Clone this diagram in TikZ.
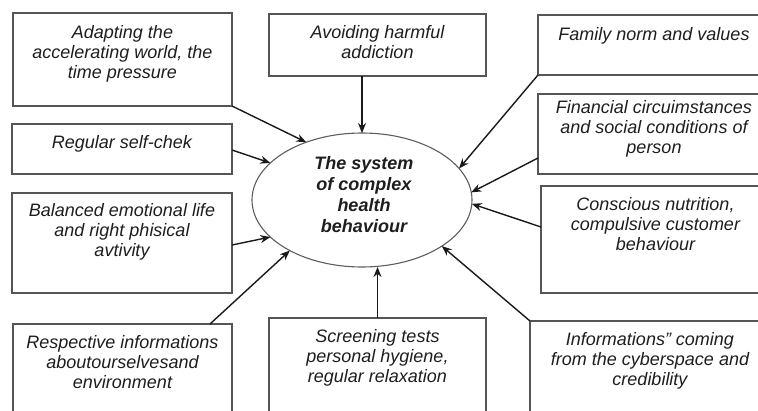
\documentclass[tikz,border=0pt]{standalone}
\usepackage{fontspec}
\setmainfont{Liberation Sans}
\usetikzlibrary{arrows.meta,calc,shapes.geometric}
\definecolor{txt}{HTML}{1E1E1E}
\definecolor{boxc}{HTML}{555555}
\definecolor{arr}{HTML}{1A1A1A}
\definecolor{ellc}{HTML}{5E5E5E}
\begin{document}
\begin{tikzpicture}[x=1pt,y=-1pt,
  box/.style={draw=boxc, line width=1.4pt, inner sep=0pt, outer sep=0pt, fill=white},
  lbl/.style={anchor=north, inner sep=0pt, align=center, text=txt, font=\fontsize{18}{20}\selectfont\itshape},
  etext/.style={inner sep=0pt, align=center, text=txt, font=\fontsize{18}{21}\selectfont\bfseries\itshape},
  conn/.style={draw=arr, line width=1.4pt, -{Stealth[length=10pt,width=8pt]}},
]
\useasboundingbox (0,0) rectangle (758,410);
\clip (0,0) rectangle (758,410);
\fill[white] (0,0) rectangle (758,410);

% boxes
\node[box, minimum width=219pt, minimum height=93pt] (adapt) at (122.5,59.5) {};
\node[box, minimum width=220pt, minimum height=50pt] (reg) at (122,149) {};
\node[box, minimum width=220pt, minimum height=100pt] (bal) at (122,243) {};
\node[box, minimum width=217pt, minimum height=62pt] (avoid) at (377.5,45) {};
\node[box, minimum width=232pt, minimum height=60pt] (fam) at (654,45) {};
\node[box, minimum width=232pt, minimum height=80pt] (fin) at (654,134) {};
\node[box, minimum width=229pt, minimum height=107pt] (cons) at (655.5,239.5) {};
\node[box, minimum width=219pt, minimum height=96pt] (resp) at (122.5,372) {};
\node[box, minimum width=217pt, minimum height=102pt] (scr) at (377.5,369) {};
\node[box, minimum width=240pt, minimum height=99pt] (info) at (650,370.5) {};

% texts
\node[lbl] (adaptT) at ([yshift=-12pt]adapt.north) {Adapting the\\accelerating world, the\\time pressure};
\node[lbl] (regT) at ([yshift=-11pt]reg.north) {Regular self-chek};
\node[lbl] (balT) at ([yshift=-10pt]bal.north) {Balanced emotional life\\and right phisical\\avtivity};
\node[lbl] (avoidT) at ([yshift=-11pt]avoid.north) {Avoiding harmful\\addiction};
\node[lbl] (famT) at ([yshift=-12pt]fam.north) {Family norm and values};
\node[lbl] (finT) at ([yshift=-6pt]fin.north) {Financial circuimstances\\and social conditions of\\person};
\node[lbl] (consT) at ([yshift=-11pt]cons.north) {Conscious nutrition,\\compulsive customer\\behaviour};
\node[lbl] (respT) at ([yshift=-11pt]resp.north) {Respective informations\\aboutourselvesand\\environment};
\node[lbl] (scrT) at ([yshift=-11pt]scr.north) {Screening tests\\personal hygiene,\\regular relaxation};
\node[lbl] (infoT) at ([yshift=-11pt]info.north) {Informations” coming\\from the cyberspace and\\credibility};

% ellipse
\node[ellipse, draw=ellc, line width=1.1pt, inner sep=0pt, outer sep=0pt, minimum width=220pt, minimum height=134pt] (ell) at (362,200) {};
\node[etext] (ellT) at (364,195) {The system\\of complex\\health\\behaviour};

% connectors
\draw[conn] (adapt.south east) -- (ell.134.5);
\draw[conn] ([yshift=-1pt]reg.east) -- (ell.158);
\draw[conn] ([yshift=-2pt]bal.east) -- (ell.202);
\draw[conn] (avoid.south -| ell.north) -- (ell.north);
\draw[conn] (fam.south west) -- (ell.18);
\draw[conn] ([yshift=16pt]fin.south west) -- (ell.4.6);
\draw[conn] ([yshift=12.5pt]cons.west) -- (ell.-2.6);
\draw[conn] ([xshift=-22pt]resp.north east) -- (ell.215);
\draw[conn] (scr.north) -- (scr.north |- ell.south);
\draw[conn] (info.north west) -- (ell.-30);
\end{tikzpicture}
\end{document}
